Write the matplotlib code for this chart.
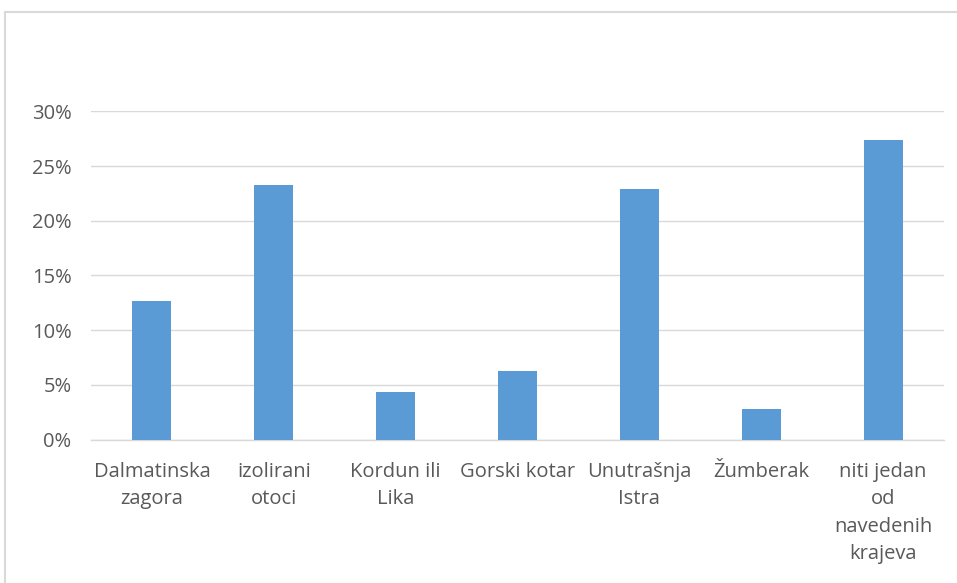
import matplotlib
matplotlib.use("Agg")
import matplotlib.pyplot as plt
from matplotlib.patches import Rectangle
from matplotlib.ticker import PercentFormatter

categories = ["Dalmatinska\nzagora", "izolirani\notoci", "Kordun ili\nLika", "Gorski kotar",
              "Unutrašnja\nIstra", "Žumberak", "niti jedan\nod\nnavedenih\nkrajeva"]
values = [12.7, 23.3, 4.3, 6.3, 22.9, 2.8, 27.4]
yticks = [0, 5, 10, 15, 20, 25, 30]

W, H = 957, 583
fig = plt.figure(figsize=(W/100, H/100), dpi=100)
plt.rcParams['font.family'] = ['Open Sans', 'DejaVu Sans']

# chart frame
fig.patches.append(Rectangle((5/W, -0.1), 1.2, 1 - 12/H + 0.1, transform=fig.transFigure,
                             fill=False, edgecolor='#D9D9D9', linewidth=1.5))

ax = fig.add_axes([91/W, 1 - 439.5/H, 853/W, (439.5 - 111.3)/H])
x = range(len(categories))
ax.bar(x, values, width=0.32, color='#5B9BD5', zorder=3)
ax.set_xlim(-0.5, len(categories) - 0.5)
ax.set_ylim(0, 30)
ax.set_yticks(yticks)
ax.yaxis.set_major_formatter(PercentFormatter(decimals=0))
ax.grid(axis='y', color='#D9D9D9', linewidth=1, zorder=0)
for s in ['top', 'right', 'left']:
    ax.spines[s].set_visible(False)
ax.spines['bottom'].set_color('#D9D9D9')
ax.spines['bottom'].set_linewidth(1)
ax.set_xticks(list(x))
ax.set_xticklabels(categories, linespacing=1.5)
ax.tick_params(axis='both', length=0, colors='#595959', labelsize=14.5)
ax.tick_params(axis='x', pad=16)
ax.tick_params(axis='y', pad=14)

fig.savefig("out.png", dpi=100)
